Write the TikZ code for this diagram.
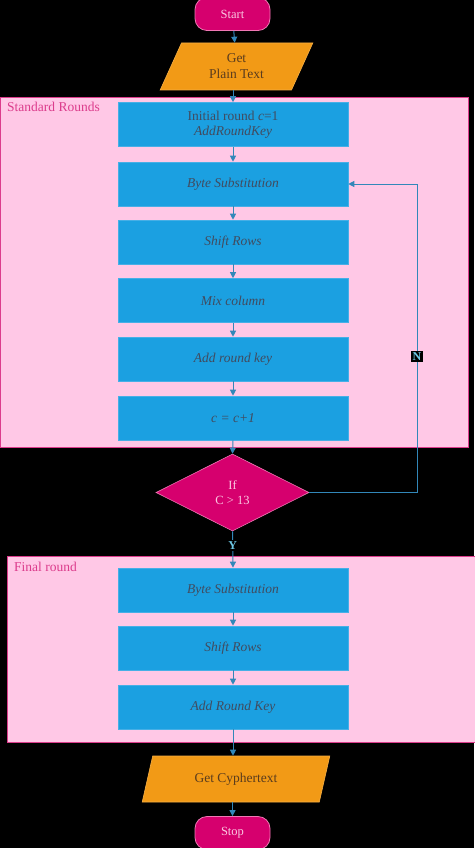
\documentclass[tikz,border=0pt]{standalone}
\usepackage{fontspec}
\setmainfont{Liberation Serif}
\usetikzlibrary{shapes.geometric,arrows.meta}
\definecolor{mag}{RGB}{214,0,110}
\definecolor{magline}{RGB}{240,120,180}
\definecolor{orng}{RGB}{242,154,22}
\definecolor{pinkbg}{RGB}{255,200,230}
\definecolor{pinkline}{RGB}{220,60,140}
\definecolor{bluebox}{RGB}{27,160,225}
\definecolor{bluebord}{RGB}{70,175,230}
\definecolor{arr}{RGB}{50,135,185}
\definecolor{boxtext}{RGB}{65,75,95}
\definecolor{lbl}{RGB}{110,200,230}
\definecolor{lightpink}{RGB}{250,200,225}
\definecolor{brown}{RGB}{90,60,30}
\begin{document}
\begin{tikzpicture}[x=1pt,y=-1pt,
  procbox/.style={rectangle,fill=bluebox,draw=bluebord,line width=0.6pt,minimum width=230pt,minimum height=44pt,inner sep=0pt,font=\fontsize{13.5}{15}\selectfont\itshape,text=boxtext,align=center},
  termbox/.style={rectangle,rounded corners=12pt,fill=mag,draw=magline,line width=0.8pt,minimum width=75pt,minimum height=33pt,inner sep=0pt,font=\fontsize{12.5}{14}\selectfont,text=lightpink},
  iobox/.style={trapezium,trapezium left angle=67,trapezium right angle=113,trapezium stretches=true,fill=orng,draw=orng!80!white,line width=0.6pt,inner sep=0pt,font=\fontsize{13.5}{16}\selectfont,text=brown,align=center},
  panel/.style={rectangle,fill=pinkbg,draw=pinkline,line width=0.6pt},
  paneltitle/.style={anchor=north west,inner sep=0pt,font=\fontsize{13.5}{15}\selectfont,text=pinkline},
  flow/.style={draw=arr,line width=1pt,-{Triangle[length=6pt,width=6pt]}},
  lab/.style={fill=black,inner sep=1.5pt,font=\fontsize{12}{13}\selectfont\bfseries,text=lbl}
]
\useasboundingbox (0,0) rectangle (474,848);
\fill[black] (0,0) rectangle (474,848);

% panels
\node[panel,minimum width=467pt,minimum height=349pt,inner sep=0pt,anchor=north west] (p1) at (0.5,97.5) {};
\node[paneltitle] (t1) at (7,102) {Standard Rounds};
\node[panel,minimum width=470pt,minimum height=186pt,inner sep=0pt,anchor=north west] (p2) at (7,555.5) {};
\node[paneltitle] (t2) at (14,562) {Final round};

% terminals and io
\node[termbox] (start) at (232.5,14) {Start};
\node[iobox,minimum width=153pt,minimum height=47pt] (plain) at (236.5,66.5) {Get\\Plain Text};

% standard round boxes
\node[procbox] (b1) at (233,124.5) {\upshape Initial round \itshape c\upshape =1\\AddRoundKey};
\node[procbox] (b2) at (233,184) {Byte Substitution};
\node[procbox] (b3) at (233,242) {Shift Rows};
\node[procbox] (b4) at (233,300.5) {Mix column};
\node[procbox] (b5) at (233,359) {Add round key};
\node[procbox] (b6) at (233,418) {c = c+1};

% decision
\node[diamond,aspect=2,fill=mag,draw=magline,line width=0.6pt,minimum width=153pt,minimum height=77pt,inner sep=0pt,font=\fontsize{12.5}{15}\selectfont,text=lightpink,align=center] (dec) at (232.5,492.5) {If\\C > 13};

% final round
\node[procbox] (f1) at (233,590) {Byte Substitution};
\node[procbox] (f2) at (233,648) {Shift Rows};
\node[procbox] (f3) at (233,707) {Add Round Key};

\node[iobox,minimum width=188pt,minimum height=46pt] (cyph) at (236,779) {Get Cyphertext};
\node[termbox] (stop) at (232.5,833) {Stop};

% flows
\draw[flow] (start) -- (plain);
\draw[flow] (plain.south -| b1.north) -- (b1);
\draw[flow] (b1) -- (b2);
\draw[flow] (b2) -- (b3);
\draw[flow] (b3) -- (b4);
\draw[flow] (b4) -- (b5);
\draw[flow] (b5) -- (b6);
\draw[flow] (b6.south) -- (dec.north);
\draw[flow] (dec.south) -- node[lab,pos=0.4] (ylab) {Y} (f1.north);
\draw[flow] (f1) -- (f2);
\draw[flow] (f2) -- (f3);
\draw[flow] (f3.south) -- (f3.south |- cyph.north);
\draw[flow] (cyph.south -| stop.north) -- (stop);
\coordinate (lc1) at (417,492.5);
\coordinate (lc2) at (417,184);
\draw[flow] (dec.east) -- (lc1) -- node[lab,pos=0.44] (nlab) {N} (lc2) -- (b2.east);
\end{tikzpicture}
\end{document}
